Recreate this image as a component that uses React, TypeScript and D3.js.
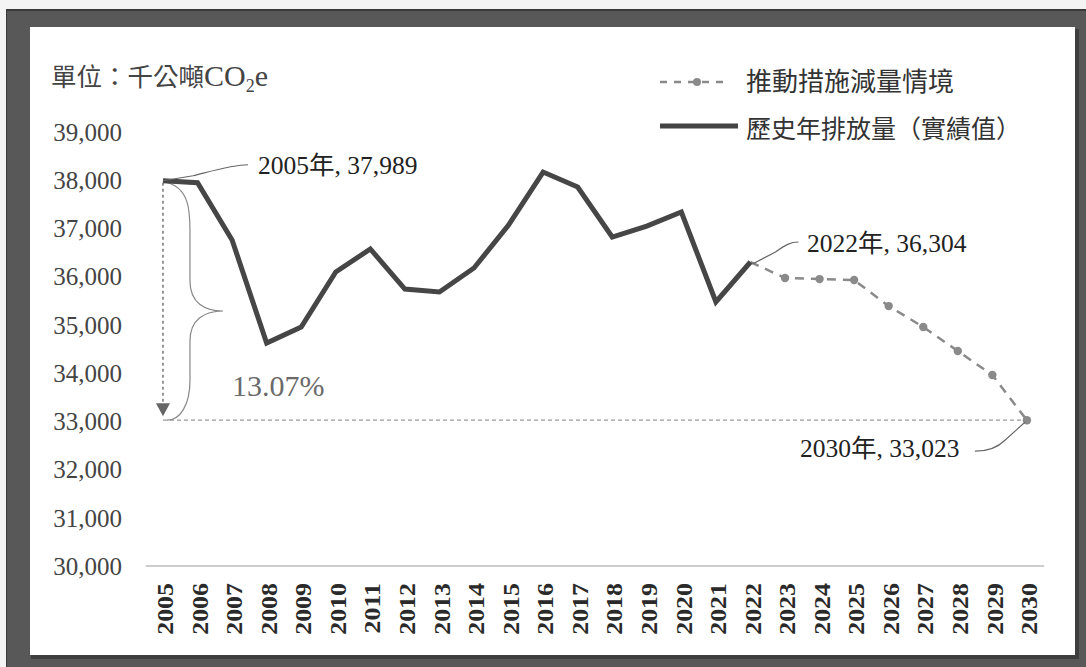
import React from "react";
import * as d3 from "d3";

const years = d3.range(2005, 2031).map(String);
const historyYears = ["2005","2006","2007","2008","2009","2010","2011","2012","2013","2014","2015","2016","2017","2018","2019","2020","2021","2022"];
const historyValues = [37989, 37950, 36760, 34624, 34956, 36097, 36574, 35744, 35682, 36180, 37071, 38170, 37860, 36822, 37050, 37340, 35475, 36304];
const projYears = ["2022","2023","2024","2025","2026","2027","2028","2029","2030"];
const projValues = [36304, 35972, 35950, 35930, 35390, 34956, 34458, 33960, 33023];
const yTicks = [30000, 31000, 32000, 33000, 34000, 35000, 36000, 37000, 38000, 39000];

const W = 1086, H = 667;
const SERIF = "'Liberation Serif', 'Times New Roman', 'Noto Sans CJK TC', serif";
const CJK = "'Noto Sans CJK TC', 'Noto Sans', sans-serif";

export default function App() {
  const x = d3.scalePoint<string>().domain(years).range([145.7, 1044.2]).padding(0.5);
  const y = d3.scaleLinear().domain([30000, 39000]).range([566, 132]);
  const fmt = d3.format(",");

  const hist = historyYears.map((yr, i) => [x(yr)!, y(historyValues[i])] as [number, number]);
  const proj = projYears.map((yr, i) => [x(yr)!, y(projValues[i])] as [number, number]);
  const line = d3.line();

  const x05 = x("2005")!, y05 = y(historyValues[0]);
  const x30 = x("2030")!, y30 = y(projValues[projValues.length - 1]);
  const x22 = x("2022")!, y22 = y(36304);

  // brace path
  const bTop = y05 + 1, bBot = y30, bMid = (bTop + bBot) / 2 + 10;
  const bx0 = x05 + 1, bx1 = x05 + 27, bxTip = x05 + 60;
  const brace = `M${bx0},${bTop} C${bx1},${bTop + 5} ${bx1},${bTop + 30} ${bx1},${bTop + 50}
    L${bx1},${bMid - 30} C${bx1},${bMid - 8} ${bx1 + 15},${bMid} ${bxTip},${bMid}
    C${bx1 + 15},${bMid} ${bx1},${bMid + 8} ${bx1},${bMid + 30}
    L${bx1},${bBot - 40} C${bx1},${bBot - 15} ${bx1 - 10},${bBot} ${bx0 + 3},${bBot}`;

  return (
    <svg width={W} height={H} style={{ position: "absolute", left: 0, top: 0, display: "block" }}>
      <rect x={0} y={0} width={W} height={H} fill="#f4f4f4" />
      <rect x={6} y={9} width={W - 6} height={H - 9} fill="#3a3a3a" />
      <rect x={7} y={11} width={W - 7} height={H - 11} fill="#585858" />
      <rect x={31} y={29} width={1048} height={630} fill="#3e3e3e" />
      <rect x={30} y={27} width={1045} height={628} fill="#ffffff" />

      {/* title */}
      <text x={51} y={86} fontFamily={CJK} fontSize={25.5} fill="#444">
        單位：千公噸
        <tspan fontFamily={SERIF} fontSize={30}>CO</tspan>
        <tspan fontFamily={SERIF} fontSize={18} dy={6}>2</tspan>
        <tspan fontFamily={SERIF} fontSize={30} dy={-6}>e</tspan>
      </text>

      {/* legend */}
      <line x1={660} x2={730} y1={82} y2={82} stroke="#8a8a8a" strokeWidth={2.5} strokeDasharray="7,7" />
      <circle cx={697} cy={82} r={4} fill="#8a8a8a" />
      <text x={746} y={91} fontFamily={CJK} fontSize={26} fill="#333">推動措施減量情境</text>
      <line x1={660} x2={738} y1={126} y2={126} stroke="#444" strokeWidth={5} />
      <text x={746} y={138} fontFamily={CJK} fontSize={25} fill="#333">歷史年排放量（實績值）</text>

      {/* y ticks */}
      {yTicks.map(t => (
        <text key={t} x={122} y={y(t)} dy="0.35em" textAnchor="end" fontFamily={SERIF} fontSize={25} fill="#444">
          {fmt(t)}
        </text>
      ))}

      {/* x axis */}
      <line x1={145.7} x2={1044.2} y1={y(30000)} y2={y(30000)} stroke="#bdbdbd" strokeWidth={1.5} />
      {years.map(yr => (
        <text key={yr} transform={`translate(${x(yr)! + 2},583) rotate(-90) scale(1.08,1)`} textAnchor="end" dominantBaseline="central"
          fontFamily={SERIF} fontSize={24} fill="#2a2a2a" fontWeight="bold">
          {yr}
        </text>
      ))}

      {/* reference lines */}
      <line x1={x05} x2={x30} y1={y30} y2={y30} stroke="#9a9a9a" strokeWidth={1.2} strokeDasharray="4,3" />
      <line x1={x05} x2={x05} y1={y05 + 2} y2={y30 - 14} stroke="#777" strokeWidth={1.5} strokeDasharray="3,3" />
      <path d={`M${x05 - 7},${y30 - 17} L${x05 + 7},${y30 - 17} L${x05},${y30 - 4} Z`} fill="#666" />
      <path d={brace} fill="none" stroke="#888" strokeWidth={1.2} />
      <text x={232} y={396} fontFamily={SERIF} fontSize={30} fill="#6a6a6a">13.07%</text>

      {/* projection */}
      <path d={line(proj)!} fill="none" stroke="#8a8a8a" strokeWidth={2.5} strokeDasharray="9,7" />
      {proj.slice(1).map((p, i) => (
        <circle key={i} cx={p[0]} cy={p[1]} r={4.2} fill="#8a8a8a" />
      ))}

      {/* history */}
      <path d={line(hist)!} fill="none" stroke="#464646" strokeWidth={5} strokeLinejoin="miter" />

      {/* annotations */}
      <path d={`M${x05},${y05} L${x05 + 30},${y05 - 5} C${x05 + 50},${y05 - 10} ${x05 + 70},${y05 - 16} ${x05 + 85},${y05 - 16}`}
        fill="none" stroke="#666" strokeWidth={1.2} />
      <text x={258} y={174} fontFamily={SERIF} fontSize={25.5} fill="#222">2005年, 37,989</text>

      <path d={`M${x22 + 2},${y22 + 2} L${x22 + 25},${y22 - 10} C${x22 + 35},${y22 - 17} ${x22 + 40},${y22 - 20} ${x22 + 48},${y22 - 20}`}
        fill="none" stroke="#666" strokeWidth={1.2} />
      <text x={807} y={252} fontFamily={SERIF} fontSize={25.5} fill="#222">2022年, 36,304</text>

      <path d={`M${x30 - 2},${y30 + 2} L${x30 - 22},${y30 + 20} C${x30 - 30},${y30 + 28} ${x30 - 40},${y30 + 31} ${x30 - 52},${y30 + 31}`}
        fill="none" stroke="#666" strokeWidth={1.2} />
      <text x={800} y={457} fontFamily={SERIF} fontSize={25.5} fill="#222">2030年, 33,023</text>
    </svg>
  );
}
